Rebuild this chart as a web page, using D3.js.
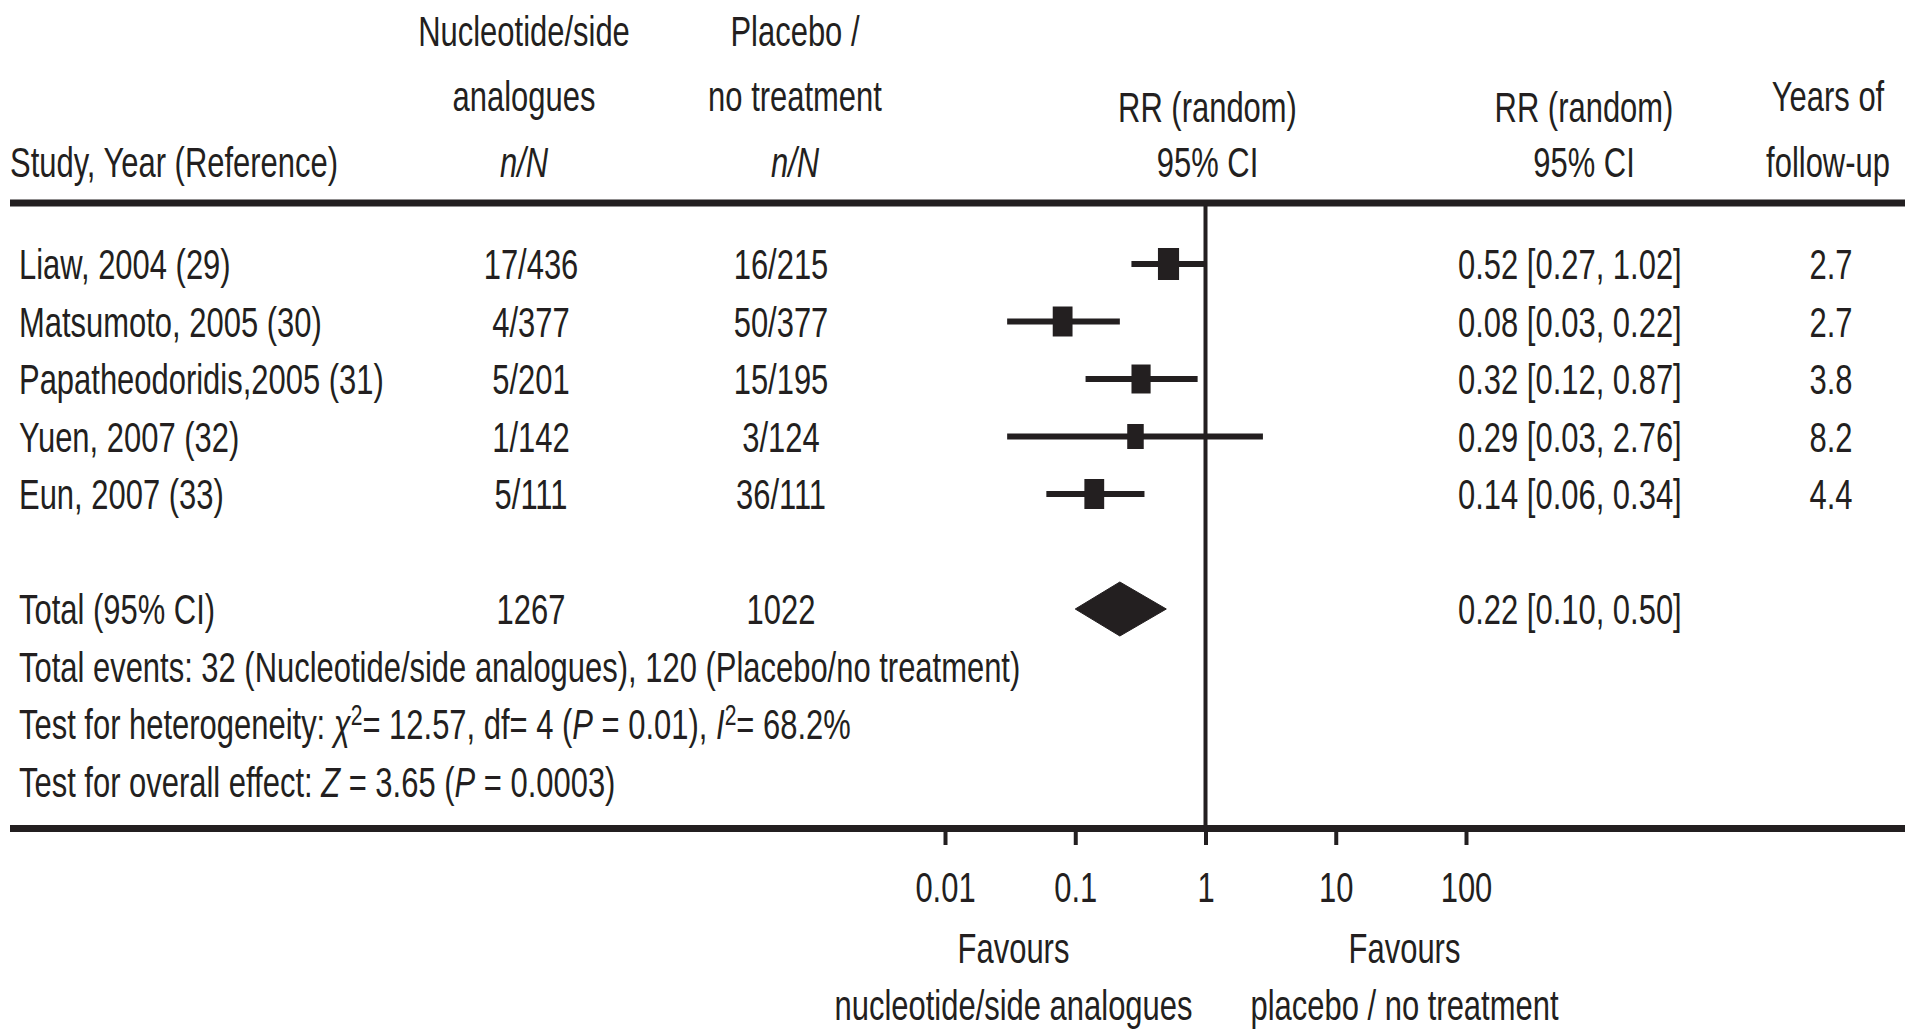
<!DOCTYPE html>
<html>
<head>
<meta charset="utf-8">
<script src="https://cdn.jsdelivr.net/npm/d3@7"></script>
<style>
  html, body { margin: 0; padding: 0; background: #fff; }
  svg { display: block; }
  text { font-family: "Liberation Sans", Arial, Helvetica, sans-serif; fill: #231f20; }
</style>
</head>
<body>
<svg id="chart" width="1905" height="1032"></svg>
<script>
// ---- data ----
const studies = ["Liaw, 2004 (29)", "Matsumoto, 2005 (30)", "Papatheodoridis,2005 (31)", "Yuen, 2007 (32)", "Eun, 2007 (33)"];
const treatEvents = [17, 4, 5, 1, 5];
const treatTotal = [436, 377, 201, 142, 111];
const ctrlEvents = [16, 50, 15, 3, 36];
const ctrlTotal = [215, 377, 195, 124, 111];
const rr = [0.52, 0.08, 0.32, 0.29, 0.14];
const rrLower = [0.27, 0.03, 0.12, 0.03, 0.06];
const rrUpper = [1.02, 0.22, 0.87, 2.76, 0.34];
const weights = [23.9, 21.0, 19.6, 14.6, 21.0];
const followUp = ["2.7", "2.7", "3.8", "8.2", "4.4"];
const totalTreat = 1267;
const totalCtrl = 1022;
const totalRR = 0.22, totalLower = 0.10, totalUpper = 0.50;
const totalEventsTreat = 32, totalEventsCtrl = 120;
const tickValues = [0.01, 0.1, 1, 10, 100];
const tickLabels = ["0.01", "0.1", "1", "10", "100"];

// ---- layout ----
const W = 1905, H = 1032;
const FS = 43;          // font size
const SX = 0.72;        // condensed type
const INK = "#231f20";

const svg = d3.select("#chart");

const x = d3.scaleLog().domain([0.01, 100]).range([945, 1466]);
const row = d3.scaleLinear().domain([0, 9]).range([264, 781.5]);
const boxH = d3.scaleSqrt().domain([0, d3.max(weights)]).range([0, 32]);

const col = { study: 19, treat: 531, ctrl: 781, rrText: 1458, years: 1831 };
const fmt = d3.format(".2f");

// text helper: parts = string or array of [text, italic, superscript]
function label(g, px, py, parts, anchor = "start") {
  const t = g.append("text")
    .attr("transform", `translate(${px},${py}) scale(${SX},1)`)
    .attr("font-size", FS)
    .attr("text-anchor", anchor);
  if (typeof parts === "string") parts = [[parts]];
  let raised = false;
  parts.forEach(([s, it, sup]) => {
    const ts = t.append("tspan").text(s);
    if (it) ts.attr("font-style", "italic");
    if (sup) { ts.attr("font-size", FS * 0.68).attr("dy", -14); raised = true; }
    else if (raised) { ts.attr("dy", 14); raised = false; }
  });
  return t;
}

const gText = svg.append("g");

// header
label(gText, 10, 177, "Study, Year (Reference)");
label(gText, 524, 46, "Nucleotide/side", "middle");
label(gText, 524, 111, "analogues", "middle");
label(gText, 524, 177, [["n/N", true]], "middle");
label(gText, 795, 46, "Placebo /", "middle");
label(gText, 795, 111, "no treatment", "middle");
label(gText, 795, 177, [["n/N", true]], "middle");
label(gText, x(1) + 2, 122, "RR (random)", "middle");
label(gText, x(1) + 2, 177, "95% CI", "middle");
label(gText, 1584, 122, "RR (random)", "middle");
label(gText, 1584, 177, "95% CI", "middle");
label(gText, 1828, 111, "Years of", "middle");
label(gText, 1828, 177, "follow-up", "middle");

// rule lines
svg.append("line").attr("x1", 10).attr("x2", W).attr("y1", 203).attr("y2", 203)
  .attr("stroke", INK).attr("stroke-width", 7);
svg.append("line").attr("x1", 10).attr("x2", W).attr("y1", 828.5).attr("y2", 828.5)
  .attr("stroke", INK).attr("stroke-width", 7);

// line of no effect
svg.append("line").attr("x1", x(1)).attr("x2", x(1)).attr("y1", 203).attr("y2", 832)
  .attr("stroke", INK).attr("stroke-width", 4);

// study rows
studies.forEach((s, i) => {
  const cy = row(i), by = cy + 15;
  label(gText, col.study, by, s);
  label(gText, col.treat, by, `${treatEvents[i]}/${treatTotal[i]}`, "middle");
  label(gText, col.ctrl, by, `${ctrlEvents[i]}/${ctrlTotal[i]}`, "middle");
  label(gText, col.rrText, by, `${fmt(rr[i])} [${fmt(rrLower[i])}, ${fmt(rrUpper[i])}]`);
  label(gText, col.years, by, followUp[i], "middle");
});

// confidence intervals and boxes
const gMarks = svg.append("g");
gMarks.selectAll("line.ci").data(studies).join("line")
  .attr("class", "ci")
  .attr("x1", (d, i) => x(rrLower[i])).attr("x2", (d, i) => x(rrUpper[i]))
  .attr("y1", (d, i) => row(i)).attr("y2", (d, i) => row(i))
  .attr("stroke", INK).attr("stroke-width", 6);
gMarks.selectAll("rect.box").data(studies).join("rect")
  .attr("class", "box")
  .attr("x", (d, i) => x(rr[i]) - boxH(weights[i]) * 0.33)
  .attr("y", (d, i) => row(i) - boxH(weights[i]) / 2)
  .attr("width", (d, i) => boxH(weights[i]) * 0.66)
  .attr("height", (d, i) => boxH(weights[i]))
  .attr("fill", INK);

// pooled estimate
const ty = row(6);
gMarks.append("path")
  .attr("d", `M${x(totalLower)},${ty} L${x(totalRR)},${ty - 27} L${x(totalUpper)},${ty} L${x(totalRR)},${ty + 27} Z`)
  .attr("fill", INK).attr("stroke", INK).attr("stroke-width", 1).attr("stroke-linejoin", "round");

label(gText, col.study, ty + 15, "Total (95% CI)");
label(gText, col.treat, ty + 15, String(totalTreat), "middle");
label(gText, col.ctrl, ty + 15, String(totalCtrl), "middle");
label(gText, col.rrText, ty + 15, `${fmt(totalRR)} [${fmt(totalLower)}, ${fmt(totalUpper)}]`);

label(gText, col.study, row(7) + 15,
  `Total events: ${totalEventsTreat} (Nucleotide/side analogues), ${totalEventsCtrl} (Placebo/no treatment)`);
label(gText, col.study, row(8) + 15, [
  ["Test for heterogeneity: "], ["\u03C7", true], ["2", false, true], ["= 12.57, df= 4 ("],
  ["P", true], [" = 0.01), "], ["I", true], ["2", false, true], ["= 68.2%"]
]);
label(gText, col.study, row(9) + 15, [
  ["Test for overall effect: "], ["Z", true], [" = 3.65 ("], ["P", true], [" = 0.0003)"]
]);

// axis
const axis = d3.axisBottom(x).tickValues(tickValues)
  .tickFormat((d, i) => tickLabels[i]).tickSize(13).tickSizeOuter(0);
const gAxis = svg.append("g").attr("transform", "translate(0,832)").call(axis);
gAxis.select(".domain").remove();
gAxis.selectAll(".tick line").attr("stroke", INK).attr("stroke-width", 4);
gAxis.selectAll(".tick text")
  .attr("y", 70).attr("dy", null)
  .attr("transform", `scale(${SX},1)`)
  .attr("font-size", FS)
  .attr("font-family", "\"Liberation Sans\", Arial, sans-serif")
  .attr("fill", INK);

label(gText, x(1) - 192, 963, "Favours", "middle");
label(gText, x(1) - 192, 1020, "nucleotide/side analogues", "middle");
label(gText, x(1) + 199, 963, "Favours", "middle");
label(gText, x(1) + 199, 1020, "placebo / no treatment", "middle");
</script>
</body>
</html>
